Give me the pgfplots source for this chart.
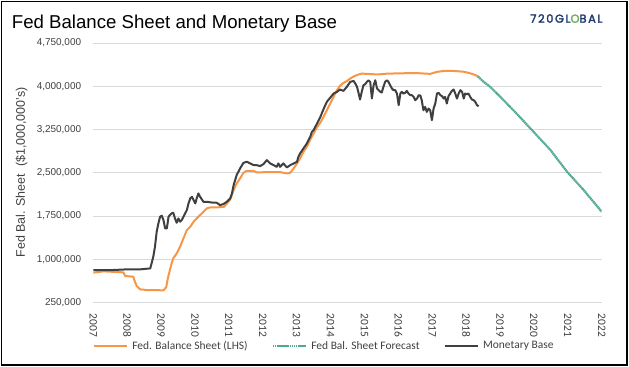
\documentclass[border=0pt]{standalone}
\usepackage{fontspec}
\setmainfont{Liberation Sans}
\newfontfamily\calib{Carlito}
\newfontfamily\logofont[LetterSpace=14, FakeBold=2.5]{Poppins}
\usepackage{pgfplots}
\pgfplotsset{compat=1.18}
\definecolor{orangeline}{HTML}{F79646}
\definecolor{tealline}{HTML}{4FA894}
\definecolor{darkline}{HTML}{404040}
\definecolor{gridgray}{HTML}{D9D9D9}
\definecolor{labgray}{HTML}{404040}
\definecolor{navy}{HTML}{1F3A6E}
\definecolor{leafgreen}{HTML}{6AAE5A}
\begin{document}
\begin{tikzpicture}
\useasboundingbox (0,0) rectangle (629bp,-367bp);
\draw[black, line width=1.2bp] (1.2bp,-1.2bp) rectangle (627bp,-365bp);
\node[anchor=base west, inner sep=0pt, font=\fontsize{18.7}{22}\selectfont] at (11.7bp,-28.3bp) {Fed Balance Sheet and Monetary Base};
\node[anchor=base west, inner sep=0pt, font=\logofont\fontsize{11.5}{13}\selectfont, text=navy] at (530bp,-22.7bp) {720GL\textcolor{leafgreen}{O}BAL};
\node[rotate=90, inner sep=0pt, text=labgray, font=\fontsize{12.5}{14}\selectfont] at (21.5bp,-172.5bp) {Fed Bal. Sheet\ \ (\$1,000,000's)};
\begin{axis}[
  at={(93.3bp,-302.6bp)}, anchor=south west, scale only axis,
  width=508.4bp, height=259.6bp,
  xmin=2007, xmax=2022, ymin=250000, ymax=4750000,
  xtick={2007,2008,2009,2010,2011,2012,2013,2014,2015,2016,2017,2018,2019,2020,2021,2022},
  xticklabels={2007,2008,2009,2010,2011,2012,2013,2014,2015,2016,2017,2018,2019,2020,2021,2022},
  ytick={250000,1000000,1750000,2500000,3250000,4000000,4750000},
  yticklabels={{250,000},{1,000,000},{1,750,000},{2,500,000},{3,250,000},{4,000,000},{4,750,000}},
  scaled y ticks=false,
  ymajorgrids, grid style={draw=gridgray, line width=0.8bp},
  axis line style={draw=none}, major tick length=0pt,
  tick label style={text=labgray},
  yticklabel style={font=\fontsize{10}{12}\selectfont, anchor=east, inner sep=0pt},
  yticklabel shift=12bp,
  xticklabel style={font=\calib\fontsize{11.5}{13}\selectfont, rotate=-90, anchor=west, inner sep=0pt},
  xticklabel shift=11bp,
  legend columns=3,
  legend cell align=left,
  legend style={at={(-0.001,-0.167)}, anchor=west, draw=none, fill=none, inner sep=0pt, outer sep=0pt,
    font=\calib\fontsize{11.5}{13}\selectfont, text=labgray, nodes={inner sep=0pt},
    /tikz/every odd column/.style={column sep=4.5bp},
    /tikz/every even column/.style={column sep=24bp}},
  legend image code/.code={\draw[#1] (0bp,0bp) -- (33bp,0bp);},
]
\addplot[orangeline, line width=2bp, line join=round] coordinates {
(2007.00,769000)(2007.30,792000)(2007.89,774000)(2007.94,711000)(2008.18,699000)(2008.21,642000)
(2008.28,538000)(2008.38,480000)(2008.58,468000)(2009.07,463000)(2009.15,515000)(2009.20,671000)
(2009.26,815000)(2009.31,930000)(2009.36,1017000)(2009.46,1103000)(2009.56,1219000)(2009.66,1363000)
(2009.76,1507000)(2009.86,1565000)(2009.96,1652000)(2010.05,1709000)(2010.15,1767000)(2010.28,1842000)
(2010.35,1883000)(2010.45,1900000)(2010.64,1900000)(2010.86,1911000)(2010.94,1969000)(2011.04,2038000)
(2011.14,2200000)(2011.23,2315000)(2011.33,2402000)(2011.43,2500000)(2011.53,2535000)(2011.73,2535000)
(2011.82,2506000)(2012.12,2512000)(2012.51,2512000)(2012.71,2489000)(2012.81,2500000)(2012.91,2575000)
(2013.01,2662000)(2013.11,2760000)(2013.20,2864000)(2013.30,2950000)(2013.40,3077000)(2013.50,3181000)
(2013.60,3290000)(2013.70,3370000)(2013.80,3480000)(2013.89,3585000)(2013.99,3700000)(2014.09,3820000)
(2014.19,3931000)(2014.28,4010000)(2014.38,4058000)(2014.48,4090000)(2014.58,4133000)(2014.68,4170000)
(2014.83,4205000)(2014.92,4220000)(2015.07,4215000)(2015.37,4205000)(2015.66,4218000)(2016.06,4225000)
(2016.55,4228000)(2016.94,4215000)(2017.14,4249000)(2017.34,4266000)(2017.63,4266000)(2017.93,4252000)
(2018.12,4225000)(2018.27,4195000)(2018.35,4170000)
};
\addlegendentry{Fed. Balance Sheet (LHS)}
\addplot[tealline, line width=2.2bp, dash pattern=on 1.6bp off 0.5bp] coordinates {
(2018.35,4170000)(2018.50,4085000)(2018.71,3990000)(2019.01,3816000)(2019.50,3520000)(2019.99,3210000)
(2020.49,2893000)(2020.98,2517000)(2021.47,2200000)(2022.00,1825000)
};
\addlegendentry{Fed Bal. Sheet Forecast}
\addplot[darkline, line width=2bp, line join=round] coordinates {
(2007.00,815000)(2007.59,815000)(2007.99,826000)(2008.38,826000)(2008.68,843000)(2008.72,930000)
(2008.77,1046000)(2008.82,1219000)(2008.87,1478000)(2008.92,1623000)(2008.97,1738000)(2009.02,1756000)
(2009.07,1681000)(2009.12,1536000)(2009.17,1536000)(2009.22,1738000)(2009.26,1767000)(2009.31,1796000)
(2009.36,1807000)(2009.41,1709000)(2009.46,1634000)(2009.51,1709000)(2009.56,1652000)(2009.61,1681000)
(2009.66,1738000)(2009.76,1854000)(2009.81,1969000)(2009.86,2056000)(2009.91,2085000)(2009.96,2027000)
(2010.01,1969000)(2010.05,2056000)(2010.10,2142000)(2010.15,2085000)(2010.25,1998000)(2010.35,1998000)
(2010.54,1981000)(2010.64,1981000)(2010.74,1940000)(2010.84,1958000)(2010.94,1998000)(2011.04,2056000)
(2011.09,2142000)(2011.14,2287000)(2011.23,2460000)(2011.33,2575000)(2011.43,2673000)(2011.53,2691000)
(2011.63,2662000)(2011.73,2633000)(2011.82,2633000)(2011.92,2616000)(2012.02,2650000)(2012.12,2720000)
(2012.22,2662000)(2012.32,2633000)(2012.41,2604000)(2012.46,2662000)(2012.51,2604000)(2012.61,2662000)
(2012.71,2593000)(2012.81,2633000)(2012.91,2662000)(2013.01,2691000)(2013.05,2777000)(2013.10,2835000)
(2013.20,2922000)(2013.30,3008000)(2013.40,3124000)(2013.45,3210000)(2013.50,3239000)(2013.60,3354000)
(2013.70,3470000)(2013.80,3614000)(2013.89,3730000)(2014.09,3874000)(2014.19,3903000)(2014.28,3944000)
(2014.38,3920000)(2014.48,3990000)(2014.58,4076000)(2014.68,4093000)(2014.73,4047000)(2014.78,3990000)
(2014.83,3874000)(2014.87,3770000)(2014.92,3903000)(2014.97,4018000)(2015.02,4035000)(2015.07,4076000)
(2015.12,4105000)(2015.17,4076000)(2015.22,3790000)(2015.27,4018000)(2015.32,4105000)(2015.37,3961000)
(2015.42,3932000)(2015.47,3903000)(2015.51,3891000)(2015.56,3990000)(2015.61,4076000)(2015.66,4105000)
(2015.71,4076000)(2015.76,4018000)(2015.81,3961000)(2015.86,3932000)(2015.91,3932000)(2015.96,3874000)
(2016.01,3672000)(2016.06,3874000)(2016.10,3903000)(2016.15,3874000)(2016.20,3886000)(2016.25,3920000)
(2016.30,3874000)(2016.35,3845000)(2016.40,3845000)(2016.45,3816000)(2016.50,3758000)(2016.55,3787000)
(2016.60,3845000)(2016.65,3840000)(2016.69,3759000)(2016.74,3585000)(2016.79,3643000)(2016.84,3556000)
(2016.89,3614000)(2016.94,3585000)(2016.99,3412000)(2017.04,3614000)(2017.09,3701000)(2017.14,3874000)
(2017.19,3886000)(2017.24,3845000)(2017.29,3828000)(2017.34,3787000)(2017.38,3816000)(2017.43,3701000)
(2017.48,3828000)(2017.53,3874000)(2017.58,3920000)(2017.63,3944000)(2017.68,3874000)(2017.73,3787000)
(2017.78,3874000)(2017.83,3932000)(2017.88,3903000)(2017.93,3787000)(2017.97,3874000)(2018.02,3862000)
(2018.07,3874000)(2018.12,3816000)(2018.17,3770000)(2018.22,3759000)(2018.27,3730000)(2018.32,3672000)
(2018.37,3655000)
};
\addlegendentry{Monetary Base}
\end{axis}
\end{tikzpicture}
\end{document}
